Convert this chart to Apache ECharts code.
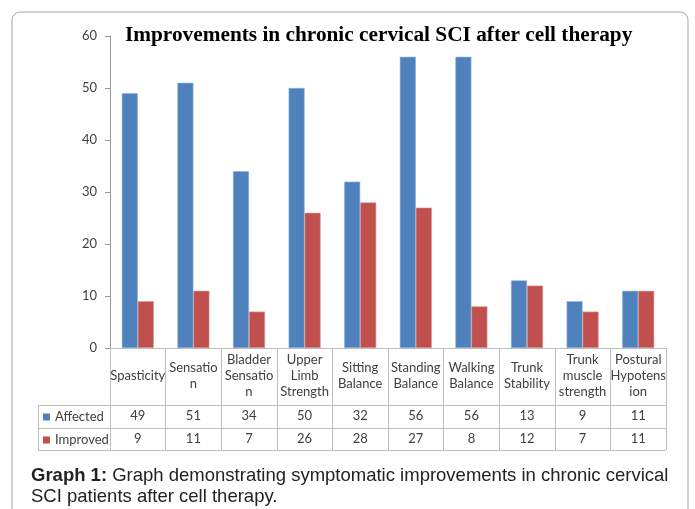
<!DOCTYPE html>
<html>
<head>
<meta charset="utf-8">
<script src="https://cdn.jsdelivr.net/npm/echarts@6/dist/echarts.min.js"></script>
<style>
html,body{margin:0;padding:0;background:#fff;}
#chart{width:695px;height:509px;}
</style>
</head>
<body>
<div id="chart"></div>
<script>
// 数据
var categories = ['Spasticity','Sensation','Bladder Sensation','Upper Limb Strength','Sitting Balance','Standing Balance','Walking Balance','Trunk Stability','Trunk muscle strength','Postural Hypotension'];
var headerLabels = ['Spasticity','Sensatio\nn','Bladder\nSensatio\nn','Upper\nLimb\nStrength','Sitting\nBalance','Standing\nBalance','Walking\nBalance','Trunk\nStability','Trunk\nmuscle\nstrength','Postural\nHypotens\nion'];
var affected = [49,51,34,50,32,56,56,13,9,11];
var improved = [9,11,7,26,28,27,8,12,7,11];
var yTicks = [0,10,20,30,40,50,60];

var gridLeft = 110, gridRight = 666, axisY = 348;
var tableLeft = 38;
var rowLines = [405,428,450];
var lineColor = '#bfbfbf';
var textColor = '#404040';
var font = 'Lato';

var chart = echarts.init(document.getElementById('chart'));

var graphics = [];
// 外框
graphics.push({type:'rect',shape:{x:12,y:12,width:676,height:540,r:8},style:{fill:'none',stroke:'#a6a6a6',lineWidth:1},silent:true});
// 表格横线
for (var i=0;i<rowLines.length;i++){
    graphics.push({type:'line',shape:{x1:tableLeft,y1:rowLines[i]+0.5,x2:gridRight,y2:rowLines[i]+0.5},style:{stroke:lineColor,lineWidth:1},silent:true});
}
graphics.push({type:'line',shape:{x1:tableLeft+0.5,y1:rowLines[0],x2:tableLeft+0.5,y2:rowLines[2]},style:{stroke:lineColor,lineWidth:1},silent:true});
graphics.push({type:'line',shape:{x1:gridLeft+0.5,y1:rowLines[0],x2:gridLeft+0.5,y2:rowLines[2]},style:{stroke:lineColor,lineWidth:1},silent:true});
// 标题说明
graphics.push({
    type:'text',left:31,top:465,silent:true,
    style:{
        text:'{b|Graph 1:} Graph demonstrating symptomatic improvements in chronic cervical\nSCI patients after cell therapy.',
        fontFamily:'Liberation Sans',fontSize:18.5,lineHeight:21,fill:'#222',
        rich:{b:{fontWeight:'bold',fontFamily:'Liberation Sans',fontSize:18.5,fill:'#222'}}
    }
});

var option = {
    animation:false,
    title:{
        text:'Improvements in chronic cervical SCI after cell therapy',
        left:125,top:25,padding:0,
        textStyle:{fontFamily:'Liberation Serif',fontWeight:'bold',fontSize:21.3,color:'#000'}
    },
    legend:{
        orient:'vertical',left:43,top:410,padding:0,itemGap:9,
        itemWidth:7,itemHeight:7,icon:'rect',
        itemStyle:{borderWidth:0},
        textStyle:{fontFamily:font,fontSize:13,lineHeight:14,color:textColor},
        data:['Affected','Improved']
    },
    grid:{left:gridLeft,right:695-gridRight,top:36,bottom:509-axisY,containLabel:false},
    xAxis:[{
        type:'category',data:headerLabels,
        axisLine:{show:true,lineStyle:{color:lineColor}},
        axisTick:{show:true,interval:0,length:rowLines[2]-axisY,lineStyle:{color:lineColor}},
        axisLabel:{interval:0,margin:28,verticalAlign:'middle',lineHeight:16,fontFamily:font,fontSize:13,color:textColor}
    },{
        type:'category',data:affected.map(String),position:'bottom',
        axisLine:{show:false},axisTick:{show:false},
        axisLabel:{interval:0,margin:68,verticalAlign:'middle',fontFamily:font,fontSize:13,color:textColor}
    },{
        type:'category',data:improved.map(String),position:'bottom',
        axisLine:{show:false},axisTick:{show:false},
        axisLabel:{interval:0,margin:91,verticalAlign:'middle',fontFamily:font,fontSize:13,color:textColor}
    }],
    yAxis:{
        type:'value',min:yTicks[0],max:yTicks[yTicks.length-1],interval:10,
        axisLine:{show:true,lineStyle:{color:'#9a9a9a'}},
        axisTick:{show:true,length:5,lineStyle:{color:'#9a9a9a'}},
        splitLine:{show:false},
        axisLabel:{margin:13,fontFamily:font,fontSize:13,color:textColor}
    },
    series:[{
        name:'Affected',type:'bar',data:affected,barWidth:16,barGap:'0%',
        itemStyle:{color:'#4f81bd',borderColor:'#8db3e2',borderWidth:0.6}
    },{
        name:'Improved',type:'bar',data:improved,barWidth:16,barGap:'0%',
        itemStyle:{color:'#c0504d',borderColor:'#d99694',borderWidth:0.6}
    }],
    graphic:graphics
};
chart.setOption(option);
</script>
</body>
</html>
